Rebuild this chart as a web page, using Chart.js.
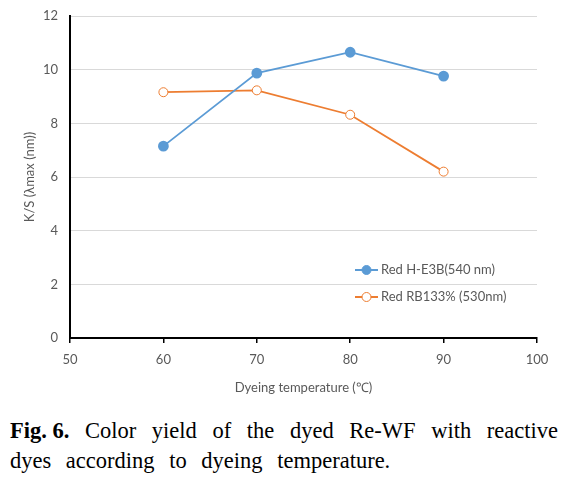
<!DOCTYPE html>
<html>
<head>
<meta charset="utf-8">
<script src="https://cdn.jsdelivr.net/npm/chart.js@4"></script>
<style>
  html, body { margin: 0; padding: 0; background: #fff; }
  #wrap { position: relative; width: 575px; height: 400px; }
  .cap { font-family: 'Liberation Serif', 'Times New Roman', serif; font-size: 22.5px; color: #000; }
  #cap1 { position: absolute; left: 10px; top: 418px; width: 548px; text-align: justify; text-align-last: justify; white-space: nowrap; }
  #cap1 b { display: inline-block; }
  #cap2 { position: absolute; left: 10px; top: 448px; word-spacing: 9px; white-space: nowrap; }
</style>
</head>
<body>
<div id="wrap"><canvas id="chart" width="575" height="400"></canvas></div>
<div id="cap1" class="cap"><b>Fig. 6.</b> Color yield of the dyed Re-WF with reactive</div>
<div id="cap2" class="cap">dyes according to dyeing temperature.</div>
<script>
const temps = [60, 70, 80, 90];
const redHE3B = [7.15, 9.87, 10.65, 9.76];
const redRB133 = [9.16, 9.23, 8.32, 6.2];
const seriesNames = ['Red H-E3B(540 nm)', 'Red RB133% (530nm)'];
const xTitle = 'Dyeing temperature (℃)';
const yTitle = 'K/S (λmax (nm))';

const blue = '#5b9bd5';
const orange = '#ed7d31';
const txt = '#595959';
const font = "Lato, 'Liberation Sans', sans-serif";

// legend drawn inside the plot, no box
const legendPlugin = {
    id: 'inlineLegend',
    afterDraw(chart) {
        const ctx = chart.ctx;
        const items = [
            { name: seriesNames[0], color: blue, fill: blue, y: 270 },
            { name: seriesNames[1], color: orange, fill: '#fff', y: 297 }
        ];
        ctx.save();
        items.forEach(function (it) {
            ctx.strokeStyle = it.color;
            ctx.lineWidth = 2;
            ctx.beginPath();
            ctx.moveTo(355, it.y);
            ctx.lineTo(378, it.y);
            ctx.stroke();
            ctx.beginPath();
            ctx.arc(366.5, it.y, 4.5, 0, Math.PI * 2);
            ctx.fillStyle = it.fill;
            ctx.fill();
            ctx.lineWidth = 1;
            ctx.stroke();
            ctx.fillStyle = txt;
            ctx.font = '13px ' + font;
            ctx.textBaseline = 'middle';
            ctx.fillText(it.name, 381, it.y);
        });
        ctx.restore();
    }
};

new Chart(document.getElementById('chart').getContext('2d'), {
    type: 'line',
    data: {
        datasets: [{
            label: seriesNames[0],
            data: temps.map(function (t, i) { return { x: t, y: redHE3B[i] }; }),
            borderColor: blue,
            backgroundColor: blue,
            pointBackgroundColor: blue,
            pointBorderColor: blue,
            pointRadius: 4.5,
            borderWidth: 1.8,
            tension: 0
        }, {
            label: seriesNames[1],
            data: temps.map(function (t, i) { return { x: t, y: redRB133[i] }; }),
            borderColor: orange,
            backgroundColor: '#fff',
            pointBackgroundColor: '#fff',
            pointBorderColor: orange,
            pointBorderWidth: 1,
            pointRadius: 4.5,
            borderWidth: 1.8,
            tension: 0
        }]
    },
    options: {
        responsive: false,
        animation: false,
        layout: { padding: { top: 16, right: 38, left: 18, bottom: 0 } },
        plugins: { legend: { display: false }, tooltip: { enabled: false } },
        scales: {
            x: {
                type: 'linear',
                min: 50, max: 100,
                ticks: { stepSize: 10, color: txt, font: { family: font, size: 13 }, padding: 9 },
                grid: { drawOnChartArea: false, drawTicks: true, tickLength: 5, color: '#000', lineWidth: 1.5 },
                border: { color: '#000', width: 2 },
                title: { display: true, text: xTitle, color: txt, font: { family: font, size: 13 }, padding: { top: 8 } },
                afterFit: function (s) { s.height = 62; s.paddingRight = 0; }
            },
            y: {
                min: 0, max: 12,
                ticks: { stepSize: 2, color: txt, font: { family: font, size: 13 }, padding: 12 },
                grid: { color: '#d9d9d9', drawTicks: false, lineWidth: 1 },
                border: { color: '#000', width: 2 },
                title: { display: true, text: yTitle, color: txt, font: { family: font, size: 13 }, padding: { bottom: 4 } },
                afterFit: function (s) { s.width = 52; s.paddingTop = 0; s.paddingBottom = 0; }
            }
        }
    },
    plugins: [legendPlugin]
});
</script>
</body>
</html>
